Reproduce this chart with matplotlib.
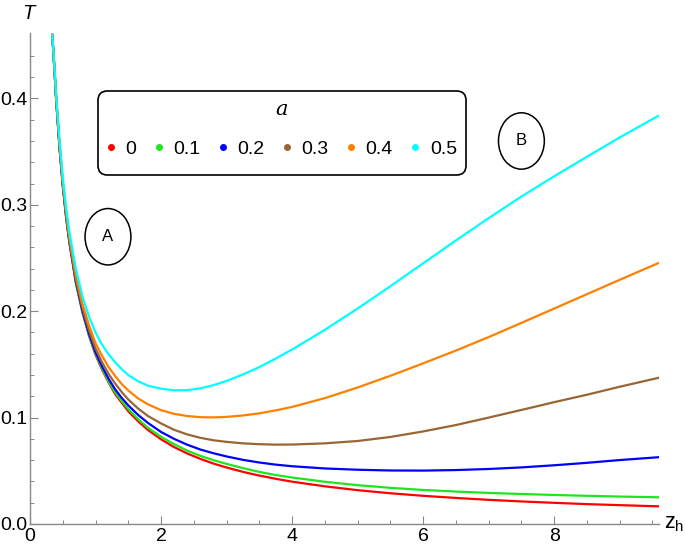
import numpy as np
import matplotlib
matplotlib.use('Agg')
import matplotlib.pyplot as plt
from matplotlib.lines import Line2D
from matplotlib.patches import Ellipse, FancyBboxPatch

plt.rcParams['font.family'] = ['Liberation Sans', 'DejaVu Sans']

# values
z_h = [0.34, 0.37, 0.4, 0.45, 0.5, 0.55, 0.6, 0.7, 0.8, 0.9, 1.0, 1.1, 1.2, 1.3, 1.4, 1.5,
       1.65, 1.8, 2.0, 2.2, 2.4, 2.6, 2.8, 3.0, 3.25, 3.5, 3.75, 4.0, 4.5, 5.0, 5.5, 6.0,
       6.5, 7.0, 7.5, 8.0, 8.5, 9.0, 9.6]
T_a0 = [0.46, 0.43, 0.398, 0.354, 0.318, 0.289, 0.265, 0.227, 0.199, 0.177, 0.159, 0.145, 0.133,
        0.122, 0.114, 0.106, 0.0965, 0.0884, 0.0796, 0.0723, 0.0663, 0.0612, 0.0568, 0.0531,
        0.049, 0.0455, 0.0425, 0.0398, 0.0354, 0.0318, 0.0289, 0.0265, 0.0245, 0.0227, 0.0212,
        0.0199, 0.0187, 0.0177, 0.0166]
T_a1 = [0.46, 0.43, 0.398, 0.354, 0.318, 0.289, 0.265, 0.227, 0.1995, 0.1775, 0.160, 0.146, 0.134,
        0.1235, 0.1155, 0.108, 0.0985, 0.0905, 0.082, 0.075, 0.069, 0.064, 0.060, 0.0565,
        0.0525, 0.049, 0.046, 0.0437, 0.0397, 0.0365, 0.034, 0.032, 0.0305, 0.0292, 0.0282,
        0.0273, 0.0265, 0.0258, 0.0251]
T_a2 = [0.46, 0.43, 0.399, 0.355, 0.319, 0.290, 0.266, 0.228, 0.2005, 0.179, 0.1615, 0.148, 0.1365,
        0.1265, 0.1185, 0.1115, 0.1025, 0.095, 0.0865, 0.080, 0.0745, 0.070, 0.0665, 0.0635,
        0.0603, 0.0578, 0.0558, 0.0543, 0.0522, 0.051, 0.0503, 0.0502, 0.0507, 0.0517, 0.0532,
        0.0552, 0.0575, 0.0601, 0.0628]
T_a3 = [0.46, 0.431, 0.40, 0.356, 0.32, 0.291, 0.267, 0.230, 0.203, 0.182, 0.165, 0.152, 0.141,
        0.132, 0.124, 0.117, 0.1085, 0.1015, 0.0945, 0.0885, 0.0842, 0.081, 0.0787, 0.0772,
        0.0758, 0.075, 0.0746, 0.0747, 0.0758, 0.078, 0.0818, 0.087, 0.093, 0.100, 0.1072,
        0.1145, 0.1215, 0.129, 0.1375]
T_a4 = [0.46, 0.432, 0.401, 0.358, 0.322, 0.294, 0.270, 0.234, 0.207, 0.187, 0.170, 0.158, 0.1475,
        0.139, 0.1315, 0.1255, 0.118, 0.1125, 0.107, 0.1035, 0.1015, 0.1004, 0.1002, 0.1007,
        0.102, 0.104, 0.1068, 0.110, 0.1183, 0.1283, 0.1393, 0.151, 0.163, 0.1757, 0.189,
        0.2025, 0.216, 0.2295, 0.2455]
T_a5 = [0.46, 0.433, 0.403, 0.361, 0.326, 0.298, 0.275, 0.240, 0.214, 0.195, 0.180, 0.1685, 0.1595,
        0.152, 0.1455, 0.140, 0.1342, 0.130, 0.1272, 0.1257, 0.1258, 0.1275, 0.1305, 0.1345,
        0.1405, 0.1475, 0.1555, 0.164, 0.1825, 0.2025, 0.2235, 0.245, 0.2665, 0.2875, 0.3078,
        0.3268, 0.3452, 0.3633, 0.384]

a_labels = ['0', '0.1', '0.2', '0.3', '0.4', '0.5']
series = [T_a0, T_a1, T_a2, T_a3, T_a4, T_a5]
colors = ['#ff0000', '#1ee61e', '#0000ff', '#996633', '#ff8000', '#00ffff']

fig = plt.figure(figsize=(6.85, 5.51), dpi=100)
ax = fig.add_axes([30/685, 27/551, 629/685, 491/551])

for T, c in zip(series, colors):
    ax.plot(z_h, T, color=c, lw=1.6, solid_capstyle='round', solid_joinstyle='round')

ax.set_xlim(0, 9.6)
ax.set_ylim(0, 0.4615)
ax.spines['top'].set_visible(False)
ax.spines['right'].set_visible(False)
for s in ['left', 'bottom']:
    ax.spines[s].set_color('#888888')
    ax.spines[s].set_linewidth(1.0)

ax.set_xticks([0, 2, 4, 6, 8])
ax.set_xticks(np.arange(0.5, 9.6, 0.5), minor=True)
ax.set_yticks([0.0, 0.1, 0.2, 0.3, 0.4])
ax.set_yticks(np.arange(0.02, 0.46, 0.02), minor=True)
ax.set_yticklabels(['0.0', '0.1', '0.2', '0.3', '0.4'])
ax.tick_params(which='major', direction='in', length=5.5, width=0.8, color='#888888',
               labelsize=14, pad=2)
ax.tick_params(which='minor', direction='in', length=3.2, width=0.7, color='#888888')
ax.tick_params(axis='x', pad=3)

ax.text(-0.002, 1.02, 'T', transform=ax.transAxes, fontsize=14.5, style='italic',
        ha='center', va='bottom')
ax.text(1.008, 0.0, r'$\mathregular{z_h}$', transform=ax.transAxes, fontsize=15.5,
        ha='left', va='center')

# legend: rounded frame, title and one row of dots
frame = FancyBboxPatch((0.1081, 0.7108), 0.5851, 0.1711, transform=ax.transAxes,
                       boxstyle='round,pad=0,rounding_size=0.015', fc='white',
                       ec='black', lw=1.2, zorder=4, mutation_aspect=629/491)
ax.add_patch(frame)
ax.text(0.4006, 0.8432, 'a', transform=ax.transAxes, fontsize=15, style='italic',
        family='DejaVu Serif', ha='center', va='center', zorder=5)
handles = [Line2D([], [], ls='', marker='o', ms=4, color=c) for c in colors]
leg = ax.legend(handles, a_labels, ncol=6, loc='center',
                bbox_to_anchor=(0.4006, 0.7637), fontsize=14, frameon=False,
                handlelength=0.4, handletextpad=0.55, columnspacing=0.95,
                borderpad=0, borderaxespad=0)
leg.set_zorder(6)

for cx, cy, lab in [(1.19, 0.270, 'A'), (7.50, 0.360, 'B')]:
    ax.add_patch(Ellipse((cx, cy), 0.70, 0.053, fill=False, ec='black', lw=1.1))
    ax.text(cx, cy, lab, ha='center', va='center', fontsize=12)

fig.savefig('out.png', dpi=100)
